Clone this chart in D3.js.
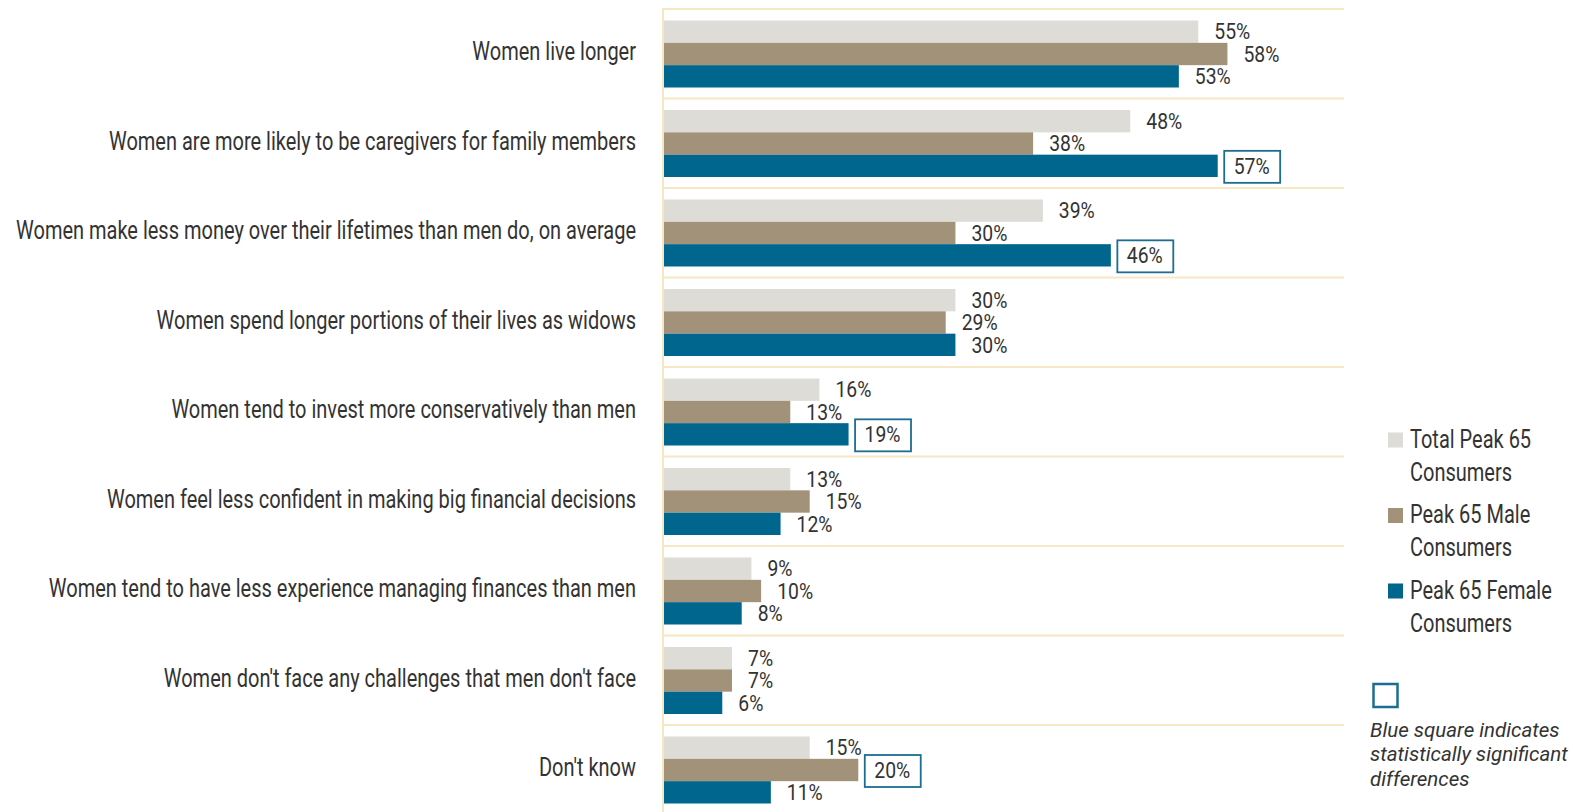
<!DOCTYPE html>
<html>
<head>
<meta charset="utf-8">
<script src="https://cdn.jsdelivr.net/npm/d3@7"></script>
<style>
  html, body { margin: 0; padding: 0; background: #fff; }
  svg { display: block; }
</style>
</head>
<body>
<svg id="chart" width="1573" height="812"></svg>
<script>
// Perceived gender differences in retirement: share of respondents choosing each statement
const categories = [
  "Women live longer",
  "Women are more likely to be caregivers for family members",
  "Women make less money over their lifetimes than men do, on average",
  "Women spend longer portions of their lives as widows",
  "Women tend to invest more conservatively than men",
  "Women feel less confident in making big financial decisions",
  "Women tend to have less experience managing finances than men",
  "Women don't face any challenges that men don't face",
  "Don't know"
];
const seriesNames = ["Total Peak 65 Consumers", "Peak 65 Male Consumers", "Peak 65 Female Consumers"];
const legendLines = [["Total Peak 65", "Consumers"], ["Peak 65 Male", "Consumers"], ["Peak 65 Female", "Consumers"]];
const totalValues  = [55, 48, 39, 30, 16, 13, 9, 7, 15];
const maleValues   = [58, 38, 30, 29, 13, 15, 10, 7, 20];
const femaleValues = [53, 57, 46, 30, 19, 12, 8, 6, 11];
// series index flagged as a statistically significant difference in each category (-1 = none)
const significantSeries = [-1, 2, 2, -1, 2, -1, -1, -1, 1];
const noteLines = ["Blue square indicates", "statistically significant", "differences"];

const seriesValues = [totalValues, maleValues, femaleValues];
const colors = ["#dddcd7", "#a3927a", "#00668e"];
const gridColor = "#f6e8c3";
const textColor = "#333333";
const boxColor = "#1d6d93";
const FONT = "Roboto, 'Noto Sans', sans-serif";
const CONDENSE = 0.8;        // horizontal squeeze for the narrow label face
const VALUE_CONDENSE = 0.88;

const svg = d3.select("#chart");

const x = d3.scaleLinear().domain([0, 70]).range([664, 1344]);
const y0 = d3.scaleBand().domain(categories).range([9, 814.5]);
const y1 = d3.scaleBand().domain(d3.range(seriesNames.length)).range([11.5, 78.5]);

// frame: top rule, category separators and the zero line
const grid = svg.append("g");
grid.selectAll("line.sep")
  .data(categories.map(c => y0(c)).concat([y0.range()[1]]))
  .join("line")
  .attr("x1", x(0) - 2).attr("x2", x.range()[1])
  .attr("y1", d => d).attr("y2", d => d)
  .attr("stroke", gridColor).attr("stroke-width", 2);
grid.append("line")
  .attr("x1", x(0) - 1).attr("x2", x(0) - 1)
  .attr("y1", y0.range()[0] - 1).attr("y2", 812)
  .attr("stroke", gridColor).attr("stroke-width", 2);

// category labels via a left axis
const axis = svg.append("g")
  .attr("transform", "translate(636,0)")
  .call(d3.axisLeft(y0).tickSize(0).tickPadding(0));
axis.select(".domain").remove();
axis.selectAll("text")
  .attr("x", 0)
  .attr("dy", "0.26em")
  .attr("transform", `scale(${CONDENSE},1)`)
  .style("font-family", FONT)
  .style("font-size", "25px")
  .attr("fill", textColor);

// bars
const rows = categories.map((c, i) => ({
  cat: c,
  vals: seriesValues.map((s, k) => ({ k, v: s[i], sig: significantSeries[i] === k }))
}));

const groups = svg.append("g").selectAll("g")
  .data(rows)
  .join("g")
  .attr("transform", d => `translate(0,${y0(d.cat)})`);

groups.selectAll("rect")
  .data(d => d.vals)
  .join("rect")
  .attr("x", x(0))
  .attr("y", d => y1(d.k))
  .attr("width", d => x(d.v) - x(0))
  .attr("height", y1.bandwidth())
  .attr("fill", d => colors[d.k]);

// value labels
const labels = groups.selectAll("g.val")
  .data(d => d.vals)
  .join("g")
  .attr("class", "val")
  .attr("transform", d => `translate(${x(d.v) + 16},${y1(d.k) + y1.bandwidth() / 2})`);

labels.append("text")
  .attr("transform", `scale(${VALUE_CONDENSE},1)`)
  .attr("dy", "0.35em")
  .style("font-family", FONT)
  .style("font-size", "22px")
  .attr("fill", textColor)
  .text(d => d.v + "%");

// outline boxes around significant values
labels.filter(d => d.sig).each(function () {
  const g = d3.select(this);
  const w = g.select("text").node().getBBox().width * VALUE_CONDENSE;
  g.insert("rect", "text")
    .attr("x", -9.5)
    .attr("y", -15)
    .attr("width", w + 20)
    .attr("height", 32)
    .attr("fill", "#fff")
    .attr("stroke", boxColor)
    .attr("stroke-width", 1.8);
});

// legend
const legend = svg.append("g");
const legendItems = legend.selectAll("g")
  .data(legendLines)
  .join("g")
  .attr("transform", (d, i) => `translate(1388,${439 + i * 75.5})`);
legendItems.append("rect")
  .attr("x", 0).attr("y", -6.5)
  .attr("width", 15).attr("height", 15)
  .attr("fill", (d, i) => colors[i]);
legendItems.selectAll("g.line")
  .data(d => d)
  .join("g")
  .attr("class", "line")
  .attr("transform", (d, j) => `translate(22,${j * 33})`)
  .append("text")
  .attr("transform", `scale(${CONDENSE},1)`)
  .attr("dy", "0.355em")
  .style("font-family", FONT)
  .style("font-size", "25px")
  .attr("fill", textColor)
  .text(d => d);

// significance key
legend.append("rect")
  .attr("x", 1373.5).attr("y", 684)
  .attr("width", 24).attr("height", 23)
  .attr("fill", "none")
  .attr("stroke", boxColor)
  .attr("stroke-width", 2.5);
legend.selectAll("text.note")
  .data(noteLines)
  .join("text")
  .attr("class", "note")
  .attr("x", 1370)
  .attr("y", (d, i) => 736.5 + i * 24.5)
  .style("font-family", FONT)
  .style("font-style", "italic")
  .style("font-size", "20.5px")
  .attr("fill", textColor)
  .text(d => d);
</script>
</body>
</html>
